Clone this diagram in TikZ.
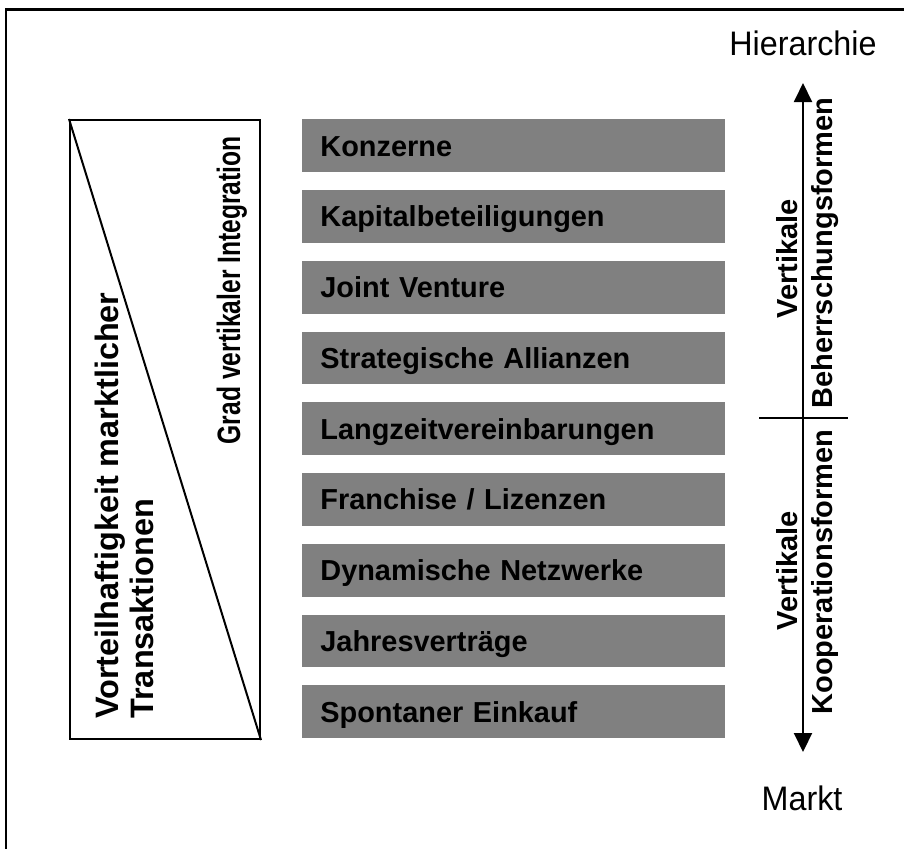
\documentclass[tikz,border=0pt]{standalone}
\usepackage{fontspec}
\setmainfont{Liberation Sans}
\usetikzlibrary{arrows.meta}
\definecolor{barfill}{RGB}{128,128,128}
\begin{document}
\begin{tikzpicture}[x=0.5pt,y=-0.5pt,
  bar/.style={fill=barfill, anchor=north west, inner xsep=9pt, inner ysep=0pt,
    text width=193.5pt, align=left, minimum height=26.35pt,
    text height=10.35pt, text depth=0pt,
    font=\fontsize{14.45pt}{17pt}\selectfont\bfseries},
  boxlabel/.style={rotate=90, inner sep=0pt, font=\fontsize{16.2pt}{19pt}\selectfont\bfseries},
  sidelabel/.style={rotate=90, inner sep=0pt, anchor=base, font=\fontsize{14.5pt}{17pt}\selectfont\bfseries},
  poletext/.style={inner sep=0pt, anchor=base, xscale=0.95, font=\fontsize{17pt}{20pt}\selectfont},
  thinline/.style={line width=1pt},
  axis/.style={line width=1pt, {Triangle[length=9.5pt,width=9pt]}-{Triangle[length=9.5pt,width=9pt]}}
]
\useasboundingbox (0,0) rectangle (904,848);
\clip (0,0) rectangle (904,848);

% outer frame (open to the right and bottom)
\draw[line width=1.2pt] (6,900) -- (6,9.5) -- (960,9.5);

% left box with diagonal
\node[draw, thinline, anchor=north west, inner sep=0pt,
      minimum width=95pt, minimum height=309.5pt] (lbox) at (69,119) {};
\draw[thinline] (lbox.north west) -- (lbox.south east);
\node[boxlabel, anchor=base west] (vort1) at (118,719) {Vorteilhaftigkeit marktlicher};
\node[boxlabel, anchor=base west] (vort2) at (153,719) {Transaktionen};
\node[boxlabel, xscale=0.76, anchor=base east] (grad) at (240,136) {Grad vertikaler Integration};

% forms of coordination
\foreach \t [count=\i from 0] in {Konzerne, Kapitalbeteiligungen, Joint Venture,
    Strategische Allianzen, Langzeitvereinbarungen, Franchise / Lizenzen,
    Dynamische Netzwerke, Jahresverträge, Spontaner Einkauf}
  \node[bar] (b\i) at (302,{119+\i*70.75}) {\t};

% hierarchy / market axis
\node[poletext] (hier) at (803,55) {Hierarchie};
\node[poletext] (markt) at (802,810) {Markt};
\coordinate (atop) at (803,83);
\coordinate (abot) at (803,752);
\draw[axis] (abot) -- (atop);
\coordinate (divl) at (759,418);
\coordinate (divr) at (848,418);
\draw[thinline] (divl) -- (divr);

\node[sidelabel] (vb1) at (797,259) {Vertikale};
\node[sidelabel] (vb2) at (832,253) {Beherrschungsformen};
\node[sidelabel] (vk1) at (797,571) {Vertikale};
\node[sidelabel] (vk2) at (832,572) {Kooperationsformen};
\end{tikzpicture}
\end{document}
